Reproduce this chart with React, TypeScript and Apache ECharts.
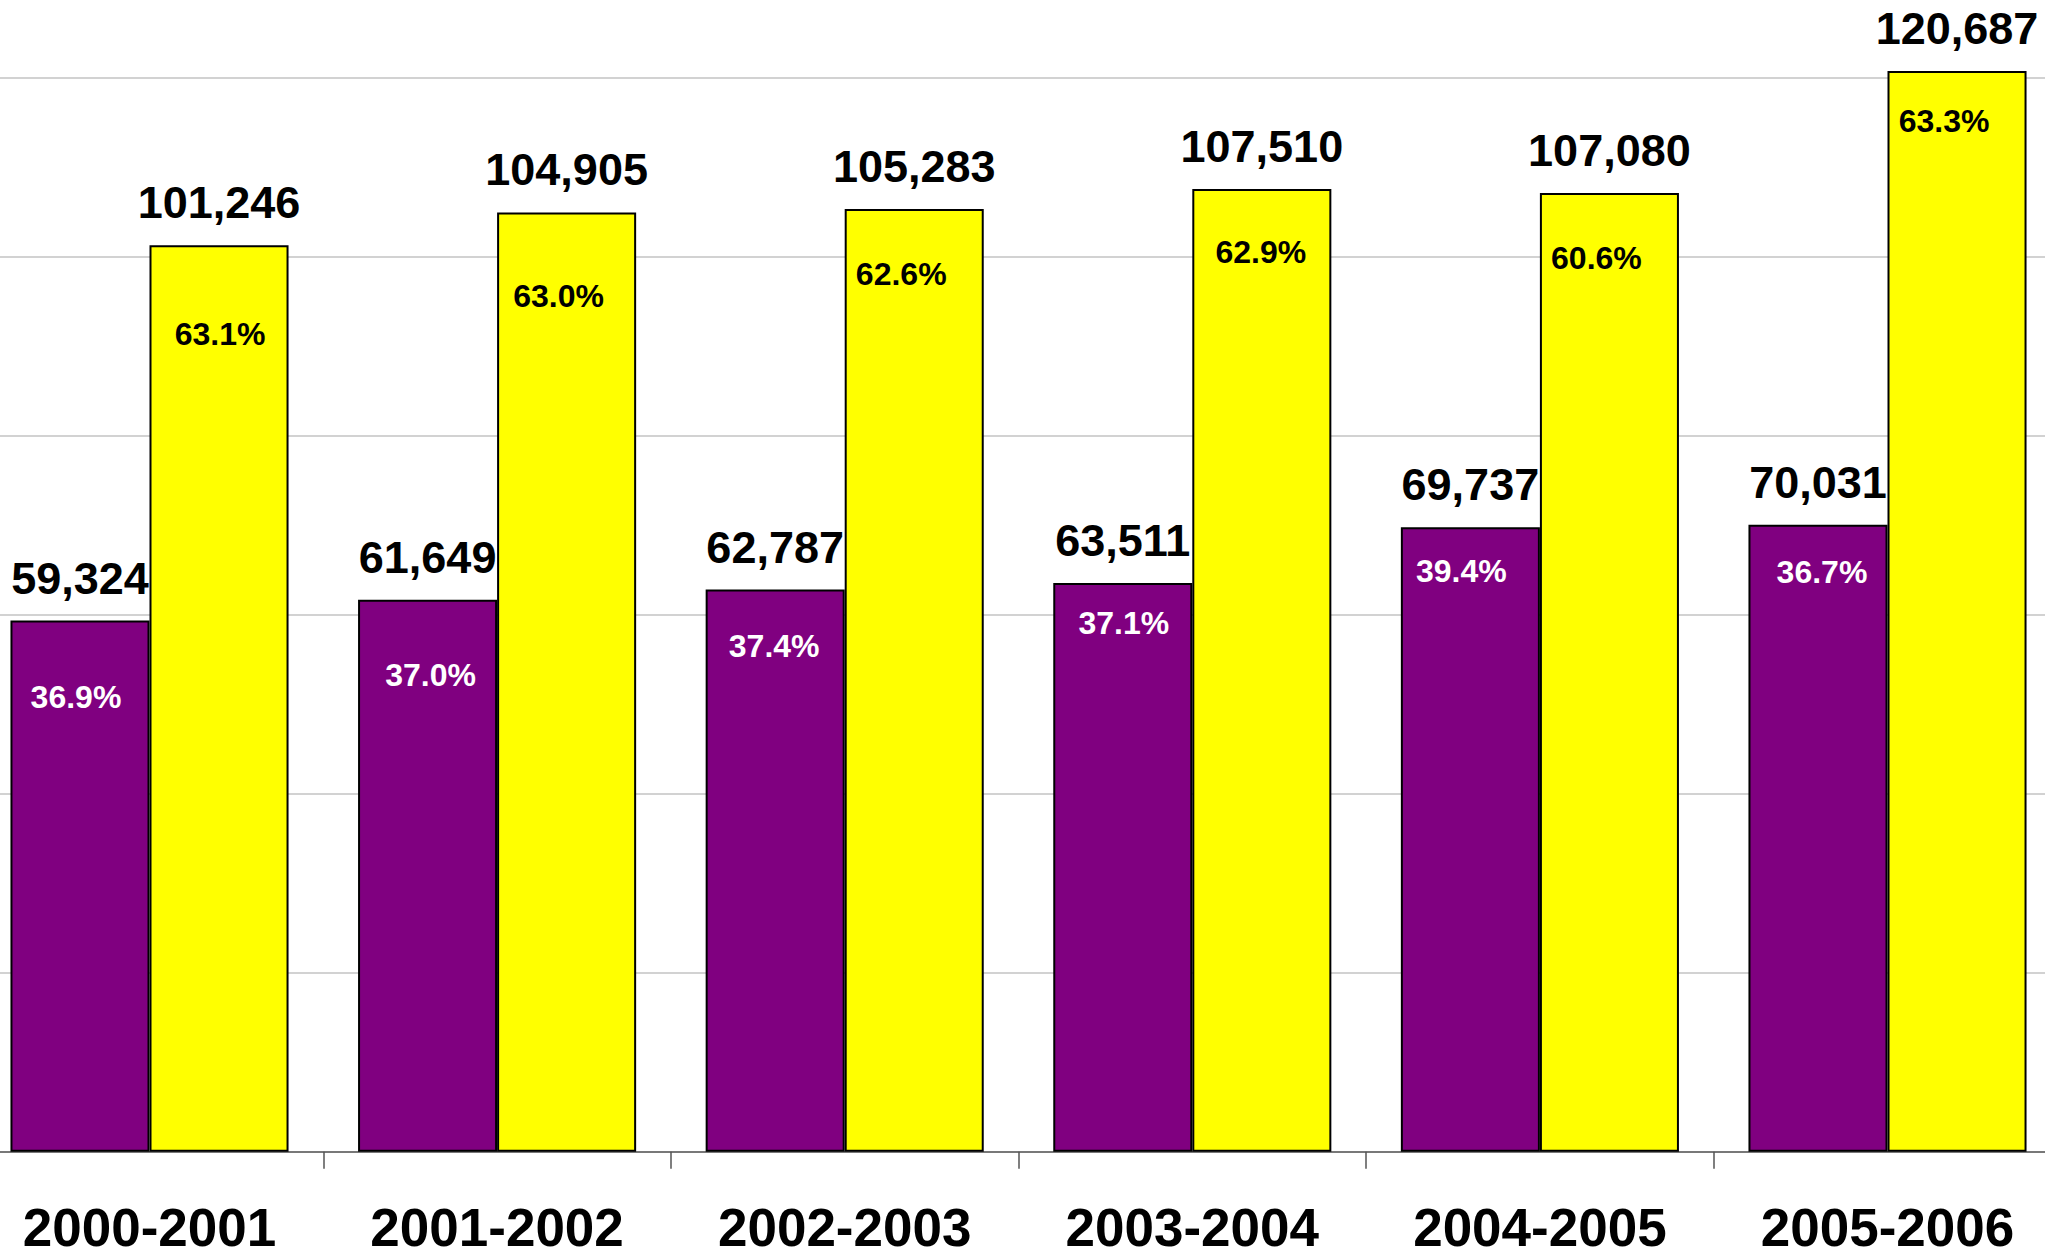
import React, { useEffect, useRef } from "react";
import * as echarts from "echarts";

// ---- data ----
const categories = ["2000-2001", "2001-2002", "2002-2003", "2003-2004", "2004-2005", "2005-2006"];
const purpleValues = [59324, 61649, 62787, 63511, 69737, 70031];
const yellowValues = [101246, 104905, 105283, 107510, 107080, 120687];
const purplePct = ["36.9%", "37.0%", "37.4%", "37.1%", "39.4%", "36.7%"];
const yellowPct = ["63.1%", "63.0%", "62.6%", "62.9%", "60.6%", "63.3%"];
const yMin = 0;
const yMax = 140000;
const yInterval = 20000;

// ---- label placement (layout only): [dx from bar centre, dy from bar top] ----
const purplePctPlace = [[-4, 76], [3, 75], [-1, 56], [1, 40], [-9, 44], [4, 47]];
const yellowPctPlace = [[1, 89], [-8, 84], [-13, 65], [-1, 63], [-13, 65], [-13, 50]];

const FONT = "'Liberation Sans', Arial, Helvetica, sans-serif";
const PURPLE = "#800080";
const YELLOW = "#FFFF00";

function fmt(v: number) {
  return v.toLocaleString("en-US");
}

export default function App() {
  const ref = useRef<HTMLDivElement>(null);

  useEffect(() => {
    if (!ref.current) return;
    const chart = echarts.init(ref.current, null, { renderer: "svg" });

    const valueLabel = {
      show: true,
      position: "top",
      distance: 20,
      fontFamily: FONT,
      fontWeight: "bold",
      fontSize: 45,
      color: "#000",
      formatter: (p: any) => fmt(p.value),
    };

    const pctSeries = (values: number[], pcts: string[], place: number[][], color: string) => ({
      type: "bar",
      xAxisIndex: 1,
      yAxisIndex: 0,
      silent: true,
      barGap: "0%",
      barCategoryGap: "20%",
      itemStyle: { color: "rgba(0,0,0,0)", borderWidth: 0 },
      z: 5,
      data: values.map((v, i) => ({
        value: v,
        label: {
          show: true,
          position: ["50%", place[i][1]],
          offset: [place[i][0], 0],
          align: "center",
          verticalAlign: "middle",
          fontFamily: FONT,
          fontWeight: "bold",
          fontSize: 32,
          color,
          formatter: () => pcts[i],
        },
      })),
    });

    chart.setOption({
      animation: false,
      backgroundColor: "#ffffff",
      grid: { left: 49.7, top: 50.2, width: 2085.6, height: 1253.5, containLabel: false },
      xAxis: [
        {
          type: "category",
          data: categories,
          axisLine: { show: true, lineStyle: { color: "#5a5a5a", width: 1.5 } },
          axisTick: { show: true, length: 17, lineStyle: { color: "#555", width: 1.5 } },
          axisLabel: {
            margin: 51,
            fontFamily: FONT,
            fontWeight: "bold",
            fontSize: 53,
            lineHeight: 50,
            color: "#000",
          },
          splitLine: { show: false },
        },
        {
          type: "category",
          data: categories,
          show: false,
        },
      ],
      yAxis: {
        type: "value",
        min: yMin,
        max: yMax,
        interval: yInterval,
        axisLine: { show: false },
        axisTick: { show: false },
        axisLabel: { show: false },
        splitLine: { show: true, lineStyle: { color: "#d2d2d2", width: 2 } },
      },
      series: [
        {
          type: "bar",
          name: "purple",
          xAxisIndex: 0,
          data: purpleValues,
          barGap: "0%",
          barCategoryGap: "20%",
          itemStyle: { color: PURPLE, borderColor: "#000", borderWidth: 2 },
          label: valueLabel,
          z: 3,
        },
        {
          type: "bar",
          name: "yellow",
          xAxisIndex: 0,
          data: yellowValues,
          barGap: "0%",
          barCategoryGap: "20%",
          itemStyle: { color: YELLOW, borderColor: "#000", borderWidth: 2 },
          label: valueLabel,
          z: 3,
        },
        pctSeries(purpleValues, purplePct, purplePctPlace, "#ffffff"),
        pctSeries(yellowValues, yellowPct, yellowPctPlace, "#000000"),
      ],
    });

    return () => chart.dispose();
  }, []);

  return (
    <div
      style={{
        position: "absolute",
        left: 0,
        top: 0,
        width: 2045,
        height: 1257,
        overflow: "hidden",
        background: "#fff",
      }}
    >
      <div
        ref={ref}
        style={{ position: "absolute", left: -74, top: -152, width: 2200, height: 1420 }}
      />
    </div>
  );
}
